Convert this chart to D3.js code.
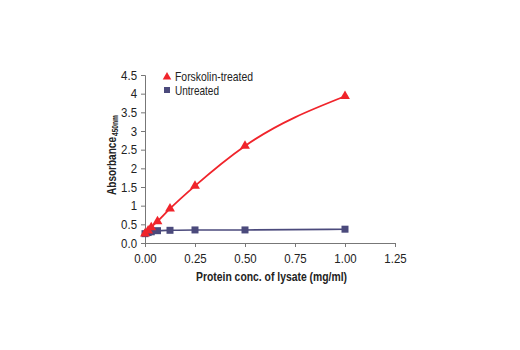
<!DOCTYPE html>
<html>
<head>
<meta charset="utf-8">
<script src="https://cdn.jsdelivr.net/npm/d3@7"></script>
<style>
  html, body { margin: 0; padding: 0; background: #fff; }
  svg { display: block; }
  text { font-family: "Liberation Sans Narrow", "Arial Narrow", "Liberation Sans", Arial, sans-serif; fill: #222; }
</style>
</head>
<body>
<div id="chart"></div>
<script>
// concentration of lysate (mg/ml)
const conc = [0, 0.0156, 0.03125, 0.0625, 0.125, 0.25, 0.5, 1.0];
const forskolin = [0.25, 0.33, 0.42, 0.58, 0.92, 1.53, 2.6, 3.93];
const untreated = [0.25, 0.28, 0.30, 0.33, 0.34, 0.35, 0.35, 0.37];
const xTicks = [0, 0.25, 0.5, 0.75, 1.0, 1.25];
const yTicks = [0, 0.5, 1, 1.5, 2, 2.5, 3, 3.5, 4, 4.5];

const W = 520, H = 350;
const svg = d3.select("#chart").append("svg").attr("width", W).attr("height", H);

const x = d3.scaleLinear().domain([0, 1.25]).range([145, 395]);
const y = d3.scaleLinear().domain([0, 4.5]).range([243, 75]);

const axisColor = "#777";

// squeeze text horizontally to mimic the condensed face of the original
const squeeze = (sel, k) => sel.each(function () {
  const n = this.getComputedTextLength();
  d3.select(this).attr("textLength", n * k).attr("lengthAdjust", "spacingAndGlyphs");
});

// y axis
const yAxis = svg.append("g").attr("transform", `translate(${x(0)},0)`)
  .call(d3.axisLeft(y).tickValues(yTicks).tickSize(4)
    .tickFormat(d => d === 0 ? "0.0" : String(d)));
yAxis.select(".domain").attr("stroke", axisColor);
yAxis.selectAll(".tick line").attr("stroke", axisColor);
yAxis.selectAll("text").attr("font-size", 13).attr("fill", "#222").attr("dx", -1).call(squeeze, 0.88);

// x axis
const xAxis = svg.append("g").attr("transform", `translate(0,${y(0)})`)
  .call(d3.axisBottom(x).tickValues(xTicks).tickSize(4).tickFormat(d3.format(".2f")));
xAxis.select(".domain").attr("stroke", axisColor);
xAxis.selectAll(".tick line").attr("stroke", axisColor);
xAxis.selectAll("text").attr("font-size", 13).attr("fill", "#222").attr("dy", "1.0em").call(squeeze, 0.88);

// titles
svg.append("text")
  .attr("x", 196).attr("y", 281)
  .attr("font-size", 12.5).attr("font-weight", "bold")
  .text("Protein conc. of lysate (mg/ml)")
  .attr("textLength", 151).attr("lengthAdjust", "spacingAndGlyphs");

const yt = svg.append("g").attr("transform", "translate(116,195) rotate(-90)");
yt.append("text").attr("x", 0).attr("y", 0)
  .attr("font-size", 12.5).attr("font-weight", "bold")
  .text("Absorbance")
  .attr("textLength", 58).attr("lengthAdjust", "spacingAndGlyphs");
yt.append("text").attr("x", 59).attr("y", 2)
  .attr("font-size", 8.5).attr("font-weight", "bold")
  .text("450nm")
  .attr("textLength", 21).attr("lengthAdjust", "spacingAndGlyphs");

const red = "#f0242b", blue = "#4b4a7c";
const line = d3.line().x(d => x(d[0])).y(d => y(d[1])).curve(d3.curveMonotoneX);

const fData = conc.map((c, i) => [c, forskolin[i]]);
const uData = conc.map((c, i) => [c, untreated[i]]);

svg.append("path").datum(uData).attr("d", line)
  .attr("fill", "none").attr("stroke", blue).attr("stroke-width", 1.6);
svg.append("path").datum(fData).attr("d", line)
  .attr("fill", "none").attr("stroke", red).attr("stroke-width", 1.8);

svg.selectAll(".sq").data(uData).join("rect")
  .attr("x", d => x(d[0]) - 3.5).attr("y", d => y(d[1]) - 3.5)
  .attr("width", 7).attr("height", 7).attr("fill", blue);

const tri = d3.symbol().type(d3.symbolTriangle).size(42);
svg.selectAll(".tri").data(fData).join("path")
  .attr("d", tri)
  .attr("transform", d => `translate(${x(d[0])},${y(d[1])})`)
  .attr("fill", red);

// legend
const lg = svg.append("g");
lg.append("path").attr("d", d3.symbol().type(d3.symbolTriangle).size(32))
  .attr("transform", "translate(167,77)").attr("fill", red);
lg.append("text").attr("x", 175).attr("y", 81).attr("font-size", 13).text("Forskolin-treated")
  .attr("textLength", 78).attr("lengthAdjust", "spacingAndGlyphs");
lg.append("rect").attr("x", 164).attr("y", 87).attr("width", 6).attr("height", 6).attr("fill", blue);
lg.append("text").attr("x", 175).attr("y", 95).attr("font-size", 13).text("Untreated")
  .attr("textLength", 44).attr("lengthAdjust", "spacingAndGlyphs");
</script>
</body>
</html>
